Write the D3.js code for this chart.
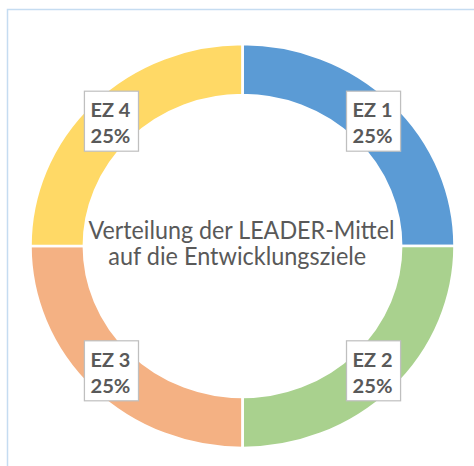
<!DOCTYPE html>
<html>
<head>
<meta charset="utf-8">
<script src="https://cdn.jsdelivr.net/npm/d3@7"></script>
<style>
  html, body { margin: 0; padding: 0; background: #fff; }
  svg { display: block; }
</style>
</head>
<body>
<svg id="chart" width="474" height="466"></svg>
<script>
const categories = ["EZ 1", "EZ 2", "EZ 3", "EZ 4"];
const values = [25, 25, 25, 25];
const titleLines = ["Verteilung der LEADER-Mittel", "auf die Entwicklungsziele"];

const palette = ["#5B9BD5", "#A9D18E", "#F4B183", "#FFD966"];
const FONT = "Lato, 'Open Sans', sans-serif";

const svg = d3.select("#chart");
const W = 474, H = 466;
const cx = 242.5, cy = 246, sx = 1.05;
const rOuter = 202, rInner = 151;

// frame (top and left lines only)
svg.append("path")
  .attr("d", `M7.5,${H} V9.5 H${W}`)
  .attr("fill", "none")
  .attr("stroke", "#c5dcf1")
  .attr("stroke-width", 1.5);

const g = svg.append("g").attr("transform", `translate(${cx},${cy}) scale(${sx},1)`);

const color = d3.scaleOrdinal().domain(categories).range(palette);
const total = d3.sum(values);
const data = categories.map((c, i) => ({ cat: c, value: values[i] }));
const pie = d3.pie().sort(null).value(d => d.value);
const arc = d3.arc().innerRadius(rInner).outerRadius(rOuter);
const labelArc = d3.arc().innerRadius((rInner + rOuter) / 2).outerRadius((rInner + rOuter) / 2);
const arcs = pie(data);

g.selectAll("path.slice")
  .data(arcs)
  .join("path")
  .attr("class", "slice")
  .attr("d", arc)
  .attr("fill", d => color(d.data.cat))
  .attr("stroke", "#fff")
  .attr("stroke-width", 2.6);

// data labels
const fmt = d3.format(".0%");
const boxW = 51.5, boxH = 60;
const lab = g.selectAll("g.lab")
  .data(arcs)
  .join("g")
  .attr("class", "lab")
  .attr("transform", d => `translate(${labelArc.centroid(d)})`);

lab.append("rect")
  .attr("x", -boxW / 2).attr("y", -boxH / 2)
  .attr("width", boxW).attr("height", boxH)
  .attr("fill", "#fff")
  .attr("stroke", "#bfbfbf")
  .attr("stroke-width", 1.2);

[[d => d.data.cat, -4], [d => fmt(d.data.value / total), 22]].forEach(([fn, y]) => {
  lab.append("text")
    .attr("x", -1).attr("y", y)
    .attr("text-anchor", "middle")
    .attr("font-family", FONT)
    .attr("font-weight", "bold")
    .attr("font-size", 19.5)
    .attr("fill", "#595959")
    .attr("textLength", 38)
    .attr("lengthAdjust", "spacingAndGlyphs")
    .text(fn);
});

// center title
const titleTargets = [306 / sx, 258 / sx];
const baselines = [-7.5, 19];
titleLines.forEach((t, i) => {
  g.append("text")
    .attr("x", (i === 0 ? -1 : -5))
    .attr("y", baselines[i])
    .attr("text-anchor", "middle")
    .attr("font-family", FONT)
    .attr("font-size", 25)
    .attr("fill", "#595959")
    .attr("textLength", titleTargets[i])
    .attr("lengthAdjust", "spacingAndGlyphs")
    .text(t);
});
</script>
</body>
</html>
